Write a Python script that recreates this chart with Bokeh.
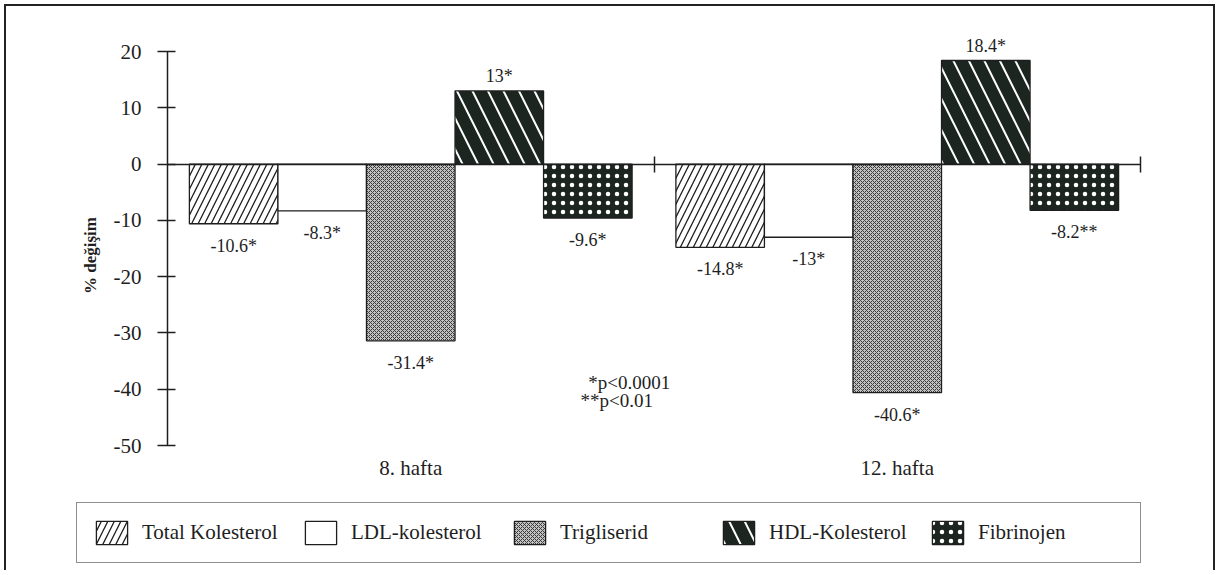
import math
from bokeh.plotting import figure
from bokeh.models import (ColumnDataSource, Range1d, FixedTicker, LinearAxis, Legend,
                          LegendItem, Label)
from bokeh.embed import file_html
from bokeh.resources import INLINE
from bokeh.core.properties import value

# ---------------- data ----------------
groups = ["8. hafta", "12. hafta"]
series = ["Total Kolesterol", "LDL-kolesterol", "Trigliserid", "HDL-Kolesterol", "Fibrinojen"]
total_kolesterol = [-10.6, -14.8]
ldl_kolesterol = [-8.3, -13.0]
trigliserid = [-31.4, -40.6]
hdl_kolesterol = [13.0, 18.4]
fibrinojen = [-9.6, -8.2]
labels_total = ["-10.6*", "-14.8*"]
labels_ldl = ["-8.3*", "-13*"]
labels_trig = ["-31.4*", "-40.6*"]
labels_hdl = ["13*", "18.4*"]
labels_fib = ["-9.6*", "-8.2**"]
y_ticks = [-50, -40, -30, -20, -10, 0, 10, 20]
y_min, y_max = -50, 20
note_lines = ["*p<0.0001", "**p<0.01"]
y_title = "% değişim"

values = [total_kolesterol, ldl_kolesterol, trigliserid, hdl_kolesterol, fibrinojen]
labels = [labels_total, labels_ldl, labels_trig, labels_hdl, labels_fib]

FONT = "Liberation Serif"
INK = "#1e1e1e"
DARK = "#1c2520"

styles = [
    dict(fill_color="white", hatch_pattern="/", hatch_color=INK, hatch_weight=1.3, hatch_scale=13),
    dict(fill_color="white"),
    dict(fill_color="#c2c2c2", hatch_pattern="x", hatch_color="#3a3a3a", hatch_weight=1.0, hatch_scale=4),
    dict(fill_color=DARK, hatch_pattern="\\", hatch_color="white", hatch_weight=2.0, hatch_scale=31),
    dict(fill_color=DARK, hatch_pattern=".", hatch_color="white", hatch_weight=2.0, hatch_scale=9),
]

W, H = 1217, 570
frame_css = ("inset 4px 4px 0 0 white, inset -2px 0 0 0 white, "
             "inset 6px 6px 0 0 #222, inset -4px 0 0 0 #222")

# layout (pixels): axis x=0 at 167, x=2 at 1140; y=20 at 51, y=-50 at 445
FL, FR, FT, FB = 60, 1150, 28, 568
px_x = (1140 - 167) / 2.0
px_y = (445 - 51) / 70.0
x0 = -(167 - FL) / px_x
x1 = 2 + (FR - 1140) / px_x
y1 = 20 + (51 - FT) / px_y
y0 = -50 - (FB - 445) / px_y

p = figure(width=W, height=H, x_range=Range1d(x0, x1), y_range=Range1d(y0, y1),
           output_backend="svg", toolbar_location=None, x_axis_location=None,
           min_border_left=FL, min_border_right=W - FR, min_border_top=FT,
           min_border_bottom=H - FB,
           styles={"box-shadow": frame_css})
p.outline_line_color = None
p.background_fill_color = None
p.border_fill_color = None

bar_w = 0.182
pad = (1 - len(series) * bar_w) / 2

renderers = []
for i, (name, vals, labs, st) in enumerate(zip(series, values, labels, styles)):
    xs = [g + pad + bar_w * (i + 0.5) for g in range(len(groups))]
    src = ColumnDataSource(dict(x=xs, top=vals, lab=labs,
                                yo=[-15 if v > 0 else 22 for v in vals]))
    r = p.vbar(x="x", top="top", bottom=0, width=bar_w, source=src,
               line_color=INK, line_width=1.3, **st)
    renderers.append(r)
    p.text(x="x", y="top", text="lab", source=src, y_offset="yo",
           text_align="center", text_baseline="middle",
           text_font=value(FONT), text_font_size="18px", text_color=INK)

# category labels under the y = -50 level
cat_src = ColumnDataSource(dict(x=[g + 0.5 for g in range(len(groups))],
                                y=[y_min] * len(groups), t=groups))
p.text(x="x", y="y", text="t", source=cat_src, y_offset=22,
       text_align="center", text_baseline="middle",
       text_font=value(FONT), text_font_size="21px", text_color=INK)

# y axis at x = 0
ya = p.yaxis[0]
ya.fixed_location = 0
ya.bounds = (y_min, y_max)
ya.ticker = FixedTicker(ticks=y_ticks)
ya.major_label_overrides = {t: str(t) for t in y_ticks}
ya.major_tick_in = 8
ya.major_tick_out = 10
ya.minor_tick_line_color = None
ya.axis_line_width = 1.5
ya.axis_line_color = INK
ya.major_tick_line_width = 1.5
ya.major_tick_line_color = INK
ya.major_label_standoff = 16
ya.major_label_text_font = FONT
ya.major_label_text_font_size = "21px"
ya.major_label_text_color = INK

# zero line axis with group boundary ticks
za = LinearAxis(fixed_location=0, bounds=(0, 2), ticker=FixedTicker(ticks=[1, 2]),
                major_tick_in=8, major_tick_out=8, minor_tick_line_color=None,
                axis_line_width=1.5, axis_line_color=INK,
                major_tick_line_width=1.5, major_tick_line_color=INK,
                major_label_standoff=0,
                major_label_overrides={1: "", 2: ""}, major_label_text_font_size="1px")
p.add_layout(za, "above")

# no grid lines at all
for r in p.renderers:
    if r.__class__.__name__ == "Grid":
        r.visible = False
p.grid.visible = False

# y title
p.add_layout(Label(x=-(167 - 90) / px_x, y=20 - (255 - 51) / px_y, text=y_title,
                   angle=math.pi / 2, text_font=FONT, text_font_style="bold",
                   text_font_size="17px", text_color=INK,
                   text_align="center", text_baseline="middle"))

for txt, xx, yy in zip(note_lines, [0.865, 0.849], [-38.8, -42.0]):
    p.add_layout(Label(x=xx, y=yy, text=txt, text_font=FONT, text_font_size="19px",
                       text_color=INK, text_baseline="middle", text_align="left"))

legend = Legend(items=[LegendItem(label=n, renderers=[r]) for n, r in zip(series, renderers)],
                orientation="horizontal", location=(76 - FL, FB - 563),
                glyph_width=39, glyph_height=29, label_width=147, label_height=29,
                label_standoff=11, spacing=12, padding=15, margin=0,
                label_text_font=FONT, label_text_font_size="21px", label_text_color=INK,
                border_line_color=INK, border_line_width=1.5,
                background_fill_color="white", background_fill_alpha=1.0)
p.add_layout(legend, "center")

open("out.html", "w").write(file_html(p, INLINE))
